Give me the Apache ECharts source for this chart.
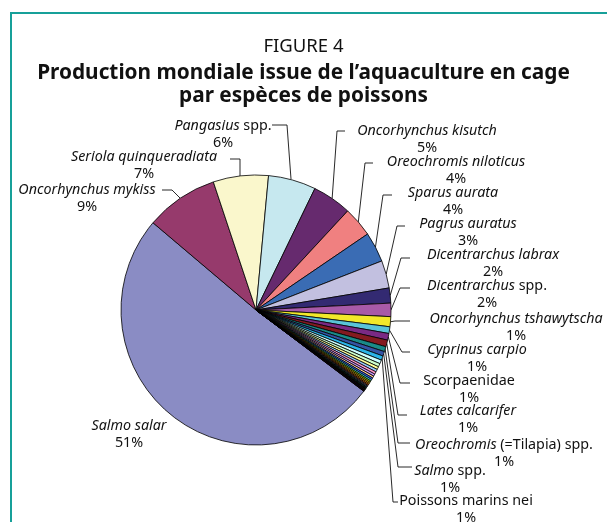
<!DOCTYPE html>
<html><head><meta charset="utf-8">
<script src="https://cdn.jsdelivr.net/npm/echarts@6/dist/echarts.min.js"></script>
<style>html,body{margin:0;padding:0;background:#fff}#c{width:607px;height:522px}</style>
</head><body><div id="c"></div>
<script>
// ---- data ----
const speciesNames = [
  "Salmo salar", "Oncorhynchus mykiss", "Seriola quinqueradiata", "Pangasius spp.",
  "Oncorhynchus kisutch", "Oreochromis niloticus", "Sparus aurata", "Pagrus auratus",
  "Dicentrarchus labrax", "Dicentrarchus spp.", "Oncorhynchus tshawytscha", "Cyprinus carpio",
  "Scorpaenidae", "Lates calcarifer", "Oreochromis (=Tilapia) spp.", "Salmo spp.",
  "Poissons marins nei"
];
const speciesShares = [50.9, 8.7, 6.6, 5.7, 4.7, 3.6, 3.6, 3.3, 1.8, 1.6, 1.2, 0.8, 0.8, 0.8, 0.6, 0.55, 0.52];
// unlabelled small species (estimated)
const otherShares = [0.45, 0.4, 0.35, 0.32, 0.3, 0.27, 0.25, 0.22, 0.2, 0.18, 0.16, 0.15, 0.13,
  0.12, 0.11, 0.1, 0.09, 0.08, 0.07, 0.06, 0.05, 0.05, 0.04, 0.04, 0.03];
const normalNames = ["Scorpaenidae", "Poissons marins nei"];
const titleLines = ["FIGURE 4", "Production mondiale issue de l’aquaculture en cage", "par espèces de poissons"];

// ---- styles / layout ----
const colors = ["#8a8cc4", "#963a6c", "#faf7cc", "#c6e8ef", "#662a6e", "#f08080", "#3a6cb4", "#c2c0e0",
  "#332a72", "#a85aa8", "#f2e82a", "#5ac4d8", "#7a2a84", "#841a20", "#1a8a88", "#3454a4", "#2ab4e8"];
const otherColors = ["#ccffff", "#ccffcc", "#ffff99", "#99ccff", "#ff99cc", "#cc99ff", "#ffcc99", "#3366ff",
  "#33cccc", "#99cc00", "#ffcc00", "#ff9900", "#ff6600", "#666699", "#969696", "#003366", "#339966",
  "#003300", "#333300", "#993300", "#993366", "#333399", "#333333", "#9999ff", "#993366"];
// label centres and leader-line knees (pixels)
const labelCenters = [[129,434],[87,198],[144,165],[223,134],[427,139],[456,170],[453,201],[468,232],
  [493,263],[487,294],[516,327],[477,358],[469,389],[468,419],[504,453],[450,479],[466,509]];
const labelKnees = [null,[[180,198],[172,190],[162,190]],[[240,176],[240,159],[230,159]],[[291,179],[287,125],[272,125]],
  [null,[337,131],[345,131]],[null,[365,163],[373,163]],[null,[383,195],[392,195]],[null,[397,226],[405,226]],
  [null,[401,258],[410,258]],[null,[400,288],[410,288]],[null,[395,321],[410,321]],[null,[402,352],[410,352]],
  [null,[400,383],[410,383]],[null,[398,415],[407,415]],[null,[398,443],[410,443]],[null,[398,467],[412,467]],
  [null,[393,502],[398,502]]];

function fmt(p) {
  const n = p.name;
  let line1;
  if (normalNames.indexOf(n) >= 0) line1 = '{n|' + n + '}';
  else if (/spp\.$/.test(n)) {
    const k = n.indexOf(' ');
    line1 = '{i|' + n.slice(0, k) + '}{n|' + n.slice(k) + '}';
  } else line1 = '{i|' + n + '}';
  return line1 + '\n{n|' + Math.round(p.percent) + '%}';
}

const data = [];
speciesNames.forEach((n, i) => {
  data.push({ name: n, value: speciesShares[i], itemStyle: { color: colors[i] },
    labelLine: { show: i !== 0 } });
});
otherShares.forEach((v, i) => {
  data.push({ name: 'autre ' + (i + 1), value: v, itemStyle: { color: otherColors[i % otherColors.length] },
    label: { show: false }, labelLine: { show: false } });
});

const chart = echarts.init(document.getElementById('c'), null, { renderer: 'canvas' });
const font = "'Noto Sans', sans-serif";
chart.setOption({
  animation: false,
  title: [
    { text: titleLines[0], left: 'center', top: 37, padding: 0,
      textStyle: { fontFamily: font, fontSize: 18.5, fontWeight: 'normal', color: '#111' } },
    { text: titleLines[1], left: 'center', top: 63, padding: 0,
      textStyle: { fontFamily: font, fontSize: 20.8, fontWeight: 'bold', color: '#111' } },
    { text: titleLines[2], left: 'center', top: 86, padding: 0,
      textStyle: { fontFamily: font, fontSize: 20.8, fontWeight: 'bold', color: '#111' } }
  ],
  graphic: [
    { type: 'line', shape: { x1: 11, y1: 13, x2: 607, y2: 13 }, style: { stroke: '#17a099', lineWidth: 2 } },
    { type: 'line', shape: { x1: 11, y1: 12, x2: 11, y2: 522 }, style: { stroke: '#17a099', lineWidth: 2 } }
  ],
  series: [{
    type: 'pie',
    center: [256, 310],
    radius: 135,
    startAngle: -37,
    clockwise: true,
    avoidLabelOverlap: false,
    minShowLabelAngle: 0,
    itemStyle: { borderColor: '#000', borderWidth: 0.8 },
    label: {
      show: true, position: 'outside', formatter: fmt, color: '#111', align: 'center',
      rich: {
        i: { fontFamily: font, fontSize: 14.3, fontStyle: 'italic', color: '#111', lineHeight: 17 },
        n: { fontFamily: font, fontSize: 14.3, color: '#111', lineHeight: 17 }
      }
    },
    labelLine: { show: true, lineStyle: { color: '#111', width: 0.9 } },
    labelLayout: function (p) {
      const i = p.dataIndex;
      if (i >= labelCenters.length) return {};
      const c = labelCenters[i];
      const out = { x: c[0], y: c[1], align: 'center', verticalAlign: 'middle' };
      const k = labelKnees[i];
      if (k) {
        const start = k[0] || (p.labelLinePoints ? p.labelLinePoints[0] : k[1]);
        out.labelLinePoints = [start, k[1], k[2]];
      }
      return out;
    },
    data: data
  }]
});
</script></body></html>
